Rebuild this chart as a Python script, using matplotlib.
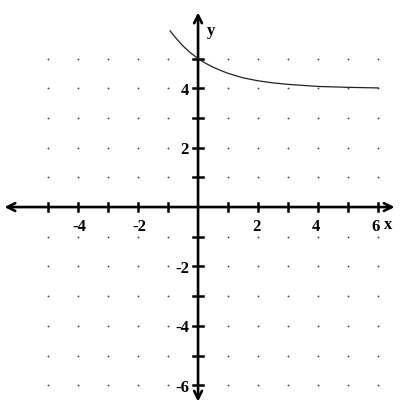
"""Textbook-style graph of a decaying curve on a dotted grid."""

import matplotlib
matplotlib.use('Agg')
import matplotlib.pyplot as plt
from matplotlib.patches import FancyArrowPatch

# data
curve_x = [-0.93, -0.75, -0.5, -0.25, 0.0, 0.25, 0.5, 0.75, 1.0, 1.5, 2.0, 2.5, 3.0, 4.0, 5.0, 6.0]
curve_y = [5.93, 5.70, 5.42, 5.19, 5.00, 4.84, 4.71, 4.60, 4.50, 4.35, 4.25, 4.18, 4.13, 4.06, 4.03, 4.01]

grid_x = list(range(-5, 7))
grid_y = list(range(-6, 6))
x_tick_labels = [-4, -2, 2, 4, 6]
y_tick_labels = [4, 2, -2, -4, -6]

FONT = 'Liberation Serif'

fig = plt.figure(figsize=(4.09, 4.15), dpi=100)
ax = fig.add_axes([0, 0, 1, 1])
ax.set_xlim(-6.6, 7.03)
ax.set_ylim(-7.0, 6.97)
ax.axis('off')

# dotted grid
for gx in grid_x:
    for gy in grid_y:
        if gx == 0 or gy == 0:
            continue
        ax.plot(gx, gy, 'o', color='#444444', markersize=1.3, markeredgewidth=0)

# axes with arrows at both ends
ax.add_patch(FancyArrowPatch((-6.45, 0), (6.55, 0), arrowstyle='<->',
                             mutation_scale=14, lw=1.9, color='black',
                             shrinkA=0, shrinkB=0, zorder=3))
ax.add_patch(FancyArrowPatch((0, -6.55), (0, 6.55), arrowstyle='<->',
                             mutation_scale=14, lw=1.9, color='black',
                             shrinkA=0, shrinkB=0, zorder=3))

# tick marks
tl = 0.14
for gx in grid_x:
    if gx != 0:
        ax.plot([gx, gx], [-tl, tl], color='black', lw=1.8, zorder=3)
for gy in grid_y:
    if gy != 0:
        ax.plot([-tl * 1.1, tl * 1.1], [gy, gy], color='black', lw=1.8, zorder=3)

# tick labels
for v in x_tick_labels:
    ax.text(v + 0.05 if v < 0 else v - 0.07, -0.68, str(v), fontsize=12,
            fontweight='bold', ha='center', va='center', fontfamily=FONT)
for v in y_tick_labels:
    ax.text(-0.3, v - 0.08, str(v), fontsize=12, fontweight='bold',
            ha='right', va='center', fontfamily=FONT)

ax.text(0.3, 5.92, 'y', fontsize=12, fontweight='bold', ha='left', va='center', fontfamily=FONT)
ax.text(6.2, -0.62, 'x', fontsize=12, fontweight='bold', ha='left', va='center', fontfamily=FONT)

# curve
ax.plot(curve_x, curve_y, color='#222222', lw=0.9, zorder=4)

plt.savefig('out.png', dpi=100, facecolor='white')
plt.close()
